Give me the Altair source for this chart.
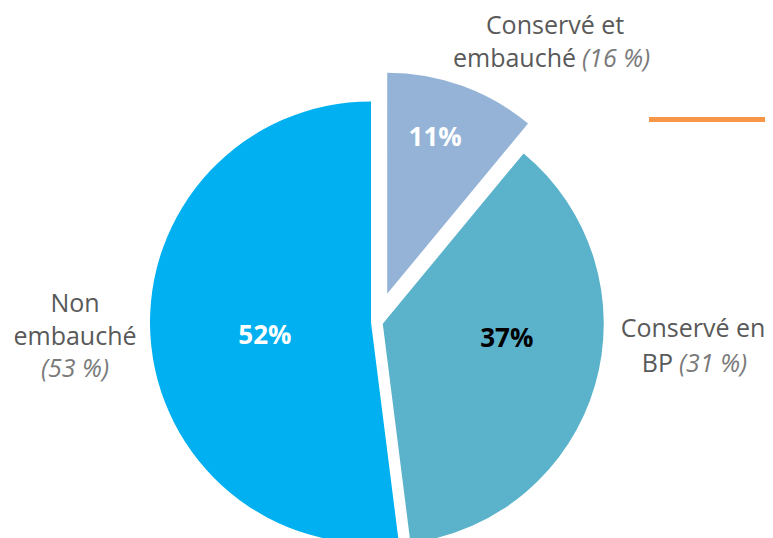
import math
import altair as alt
import pandas as pd

# ---------------- data ----------------
labels = ["Conservé et embauché", "Conservé en BP", "Non embauché"]
values = [11, 37, 52]          # current shares (%)
previous = [16, 31, 53]        # shares shown in brackets (%)
pct_text = ["11%", "37%", "52%"]
label_lines = [["Conservé et", "embauché"], ["Conservé en", "BP"], ["Non", "embauché"]]

# ---------------- style / layout ----------------
colors = ["#95B3D7", "#5BB2CB", "#00B0F0"]
pct_colors = ["#FFFFFF", "#000000", "#FFFFFF"]
explode = [30, 6, 6]              # px pulled out along bisector
pct_radius = [163, 125, 107]      # label distance from slice tip
pct_turn = [-0.75, -2.56, -1.03]  # label angular nudge (in % of the circle)

W, H = 757, 530
CX, CY, R = 369, 314, 221
FONT = "Open Sans"
GREY = "#595959"
GREY_IT = "#7A7A7A"

# category label layout: block centre x, first baseline y, line step, split x for inline bracket
label_layout = [
    dict(cx=547, y0=26, step=33, split=571),
    dict(cx=685, y0=329, step=35, split=668),
    dict(cx=67, y0=304, step=32.5, split=None),
]

df = pd.DataFrame({
    "label": labels, "value": values, "order": list(range(len(values))),
    "pct": pct_text, "explode": explode, "lr": pct_radius, "lt": pct_turn,
})

theta_scale = alt.Scale(domain=[0, sum(values)], range=[0, 2 * math.pi])

base = alt.Chart(df).transform_window(
    cum="sum(value)", sort=[alt.SortField("order")], frame=[None, 0]
).transform_calculate(
    start="datum.cum - datum.value",
    mid="datum.cum - datum.value / 2",
).transform_calculate(
    ang=f"datum.mid / {sum(values)} * 2 * PI",
    lpos="datum.mid + datum.lt",
).transform_calculate(
    cx=f"{CX} + datum.explode * sin(datum.ang)",
    cy=f"{CY} - datum.explode * cos(datum.ang)",
)

xenc = alt.X("cx:Q", scale=None, axis=None)
yenc = alt.Y("cy:Q", scale=None, axis=None)

arcs = base.mark_arc(radius=R).encode(
    x=xenc, y=yenc,
    theta=alt.Theta("start:Q", stack=None, scale=theta_scale),
    theta2="cum:Q",
    color=alt.Color("label:N", scale=alt.Scale(domain=labels, range=colors), legend=None),
)

pcts = base.mark_text(font=FONT, fontSize=26, fontWeight="bold", align="center",
                      baseline="middle").encode(
    x=xenc, y=yenc,
    theta=alt.Theta("lpos:Q", stack=None, scale=theta_scale),
    radius=alt.Radius("lr:Q", scale=None),
    text="pct:N",
    color=alt.Color("pct:N", scale=alt.Scale(domain=pct_text, range=pct_colors), legend=None),
)

# category labels table
rows = []
for i, lab in enumerate(labels):
    lay = label_layout[i]
    lines = label_lines[i]
    br = f"({previous[i]} %)"
    for j, line in enumerate(lines):
        y = lay["y0"] + j * lay["step"]
        if j == len(lines) - 1 and lay["split"] is not None:
            rows.append(dict(text=line, x=lay["split"] - 3, y=y, kind="nr"))
            rows.append(dict(text=br, x=lay["split"] + 3, y=y, kind="il"))
        else:
            rows.append(dict(text=line, x=lay["cx"], y=y, kind="nc"))
    if lay["split"] is None:
        rows.append(dict(text=br, x=lay["cx"], y=lay["y0"] + len(lines) * lay["step"], kind="ic"))
tdf = pd.DataFrame(rows)


def txt(kind, align, italic):
    return alt.Chart(tdf).transform_filter(f"datum.kind == '{kind}'").mark_text(
        font=FONT, fontSize=25, align=align, baseline="alphabetic",
        fontStyle="italic" if italic else "normal",
        color=GREY_IT if italic else GREY,
    ).encode(
        x=alt.X("x:Q", scale=None, axis=None),
        y=alt.Y("y:Q", scale=None, axis=None),
        text="text:N",
    )


cat_text = txt("nc", "center", False) + txt("nr", "right", False) + \
    txt("il", "left", True) + txt("ic", "center", True)

orange = alt.Chart(pd.DataFrame({"a": [0]})).mark_rule(color="#F79646", strokeWidth=5).encode(
    x=alt.value(641), x2=alt.value(W), y=alt.value(111.5)
)

chart = alt.layer(arcs, pcts, cat_text, orange).resolve_scale(
    color="independent"
).properties(
    width=W, height=H, padding=0, autosize="none", background="white"
).configure_view(stroke=None)

chart.save("out.html", embed_options={"renderer": "svg", "actions": False})
